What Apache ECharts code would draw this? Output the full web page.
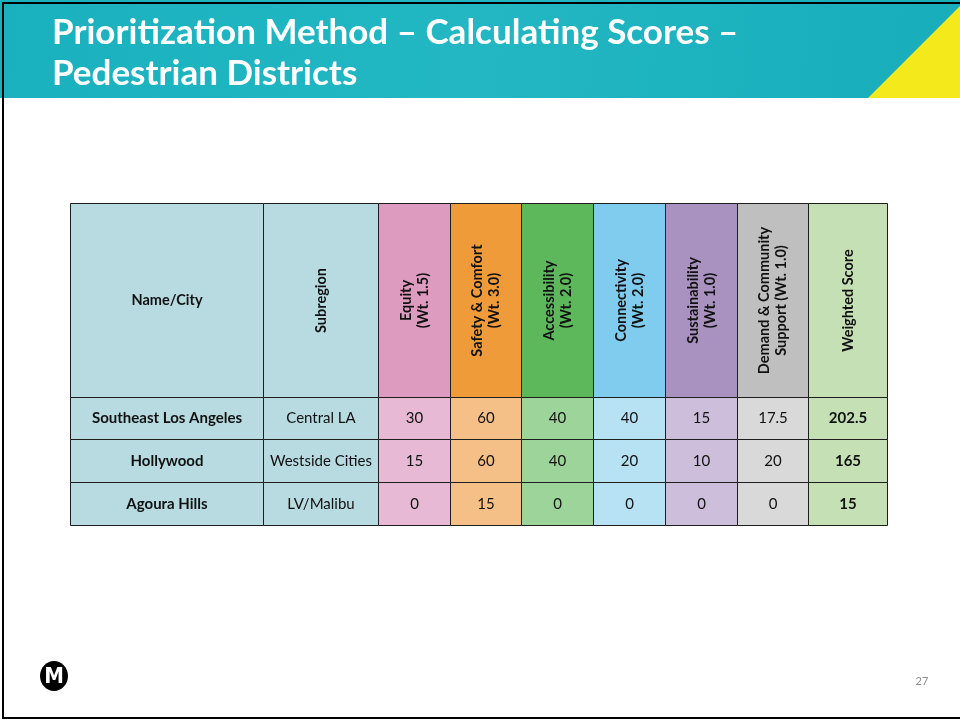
<!DOCTYPE html>
<html>
<head>
<meta charset="utf-8">
<script src="https://cdn.jsdelivr.net/npm/echarts@6/dist/echarts.min.js"></script>
<style>
html,body{margin:0;padding:0;background:#fff;}
#chart{width:960px;height:721px;}
</style>
</head>
<body>
<div id="chart"></div>
<script>
// ---- Data ----
const titleText = 'Prioritization Method \u2013 Calculating Scores \u2013\nPedestrian Districts';
const headers = ['Name/City', 'Subregion', 'Equity\n(Wt. 1.5)', 'Safety & Comfort\n(Wt. 3.0)', 'Accessibility\n(Wt. 2.0)', 'Connectivity\n(Wt. 2.0)', 'Sustainability\n(Wt. 1.0)', 'Demand & Community\nSupport (Wt. 1.0)', 'Weighted Score'];
const names = ['Southeast Los Angeles', 'Hollywood', 'Agoura Hills'];
const subregions = ['Central LA', 'Westside Cities', 'LV/Malibu'];
const equity = [30, 15, 0];
const safety = [60, 60, 15];
const accessibility = [40, 40, 0];
const connectivity = [40, 20, 0];
const sustainability = [15, 10, 0];
const demand = [17.5, 20, 0];
const weighted = [202.5, 165, 15];
const pageNumber = '27';

// ---- Layout / style ----
const colWidths = [193, 115, 72, 71, 72, 72, 72, 71, 79];
const rowHeights = [194, 42, 43, 43];
const headerFill = ['#B7DBE1', '#B7DBE1', '#DE9BC0', '#F09B3A', '#5DB85C', '#7FCCEE', '#A992C0', '#BFBFBF', '#C5E0B4'];
const cellFill = ['#B7DBE1', '#B7DBE1', '#E8B9D4', '#F5C088', '#9CD49A', '#B6E2F4', '#CDBEDC', '#D9D9D9', '#C5E0B4'];
const rotatedHeader = [false, true, true, true, true, true, true, true, true];
const FONT = 'Lato, "Open Sans", sans-serif';

const colEdges = [0];
colWidths.forEach(w => colEdges.push(colEdges[colEdges.length - 1] + w));
const rowEdges = [0];
rowHeights.forEach(h => rowEdges.push(rowEdges[rowEdges.length - 1] + h));
const totalW = colEdges[colEdges.length - 1];
const totalH = rowEdges[rowEdges.length - 1];

const columnsData = [names, subregions, equity, safety, accessibility, connectivity, sustainability, demand, weighted];
const cells = [];
headers.forEach((h, c) => cells.push({ value: [c, 0], text: h }));
for (let r = 0; r < names.length; r++) {
  columnsData.forEach((arr, c) => cells.push({ value: [c, r + 1], text: String(arr[r]) }));
}

function renderItem(params, api) {
  const c = api.value(0), r = api.value(1);
  const item = cells[params.dataIndex];
  const p0 = api.coord([colEdges[c], rowEdges[r]]);
  const p1 = api.coord([colEdges[c + 1], rowEdges[r + 1]]);
  const x = Math.min(p0[0], p1[0]), y = Math.min(p0[1], p1[1]);
  const w = Math.abs(p1[0] - p0[0]), h = Math.abs(p1[1] - p0[1]);
  const isHeader = r === 0;
  const bold = isHeader || c === 0 || c === headers.length - 1;
  const rotate = isHeader && rotatedHeader[c];
  return {
    type: 'group',
    children: [
      { type: 'rect', shape: { x: x, y: y, width: w, height: h },
        style: { fill: isHeader ? headerFill[c] : cellFill[c], stroke: '#1e1e1e', lineWidth: 1 } },
      { type: 'text', x: x + w / 2, y: y + h / 2, rotation: rotate ? Math.PI / 2 : 0,
        style: { text: item.text, align: 'center', verticalAlign: 'middle',
          font: (bold ? 'bold ' : '') + (isHeader ? '14.5px ' : '15px ') + FONT, fill: '#111', lineHeight: 17 } }
    ]
  };
}

const chart = echarts.init(document.getElementById('chart'), null, { renderer: 'canvas' });
chart.setOption({
  animation: false,
  grid: { left: 70.5, top: 203.5, width: totalW, height: totalH },
  xAxis: { type: 'value', min: 0, max: totalW, show: false },
  yAxis: { type: 'value', min: 0, max: totalH, inverse: true, show: false },
  graphic: [
    { type: 'rect', z: 0, shape: { x: 0, y: 0, width: 960, height: 98 },
      style: { fill: new echarts.graphic.LinearGradient(0, 0, 1, 1, [
        { offset: 0, color: '#1AB1BE' }, { offset: 0.5, color: '#22B7C3' }, { offset: 1, color: '#18ADBA' }]) } },
    { type: 'polygon', z: 1, shape: { points: [[868, 98], [960, 6], [960, 98]] }, style: { fill: '#F3E91B' } },
    { type: 'rect', z: 2, shape: { x: 3, y: 3, width: 960, height: 715 }, style: { fill: null, stroke: '#000', lineWidth: 2 } },
    { type: 'text', z: 3, left: 52, top: 12,
      style: { text: titleText, font: 'bold 35px ' + FONT, fill: '#fff', lineHeight: 41 } },
    { type: 'ellipse', z: 3, shape: { cx: 54, cy: 676, rx: 14, ry: 15 }, style: { fill: '#000' } },
    { type: 'text', z: 4, x: 54, y: 677,
      style: { text: 'M', align: 'center', verticalAlign: 'middle', font: 'bold 22px "Liberation Sans Narrow", "DejaVu Sans Condensed", sans-serif', fill: '#fff' } },
    { type: 'text', z: 3, x: 922, y: 681,
      style: { text: pageNumber, align: 'center', verticalAlign: 'middle', font: '11px ' + FONT, fill: '#8c8c8c' } }
  ],
  series: [{
    type: 'custom',
    renderItem: renderItem,
    data: cells.map(d => d.value),
    silent: true
  }]
});
</script>
</body>
</html>
